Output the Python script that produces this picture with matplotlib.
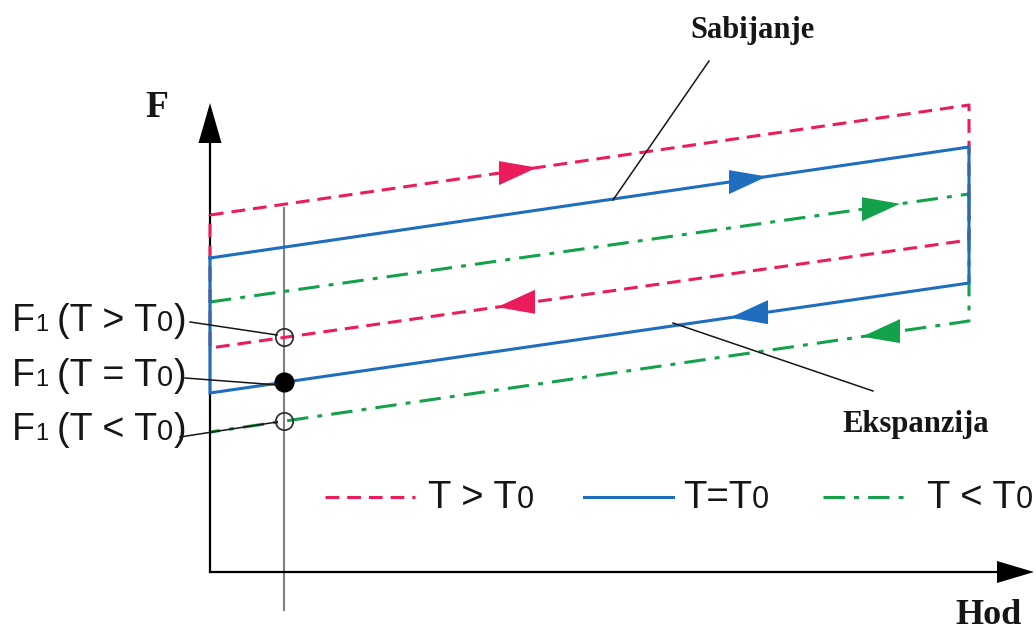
import matplotlib
matplotlib.use("Agg")
import matplotlib.pyplot as plt
from matplotlib.patches import Polygon
from matplotlib.transforms import IdentityTransform

# ---------------------------------------------------------------------------
# Data (schematic units: Hod to the right, F upwards, origin at axis cross)
# ---------------------------------------------------------------------------
HOD_ENDS = [0, 759]

F_HOT_TOP = [357, 467]      # T > T0, compression
F_HOT_BOT = [224, 332]      # T > T0, expansion
F_REF_TOP = [314, 425]      # T = T0
F_REF_BOT = [179, 289]
F_COLD_TOP = [270, 378]     # T < T0
F_COLD_BOT = [140, 251]

ARROW_TOP_HOD = [327, 557, 690]   # direction marks on compression lines
ARROW_BOT_HOD = [287, 520, 652]   # direction marks on expansion lines

F1_HOD = 74
F1_LABELS = [("(T > T", "0", ")"), ("(T = T", "0", ")"), ("(T < T", "0", ")")]
LEGEND_LABELS = [("T > T", "0"), ("T=T", "0"), ("T < T", "0")]

RED = "#ec1c5c"
BLUE = "#1f6dbf"
GREEN = "#13a24b"
INK = "#161616"

SANS = ["Liberation Sans Narrow", "Liberation Sans", "DejaVu Sans"]
SERIF = ["Liberation Serif", "DejaVu Serif"]


def line_f(f_pair, h):
    h0, h1 = HOD_ENDS
    return f_pair[0] + (f_pair[1] - f_pair[0]) * (h - h0) / (h1 - h0)


def draw_loop(ax, f_top, f_bot, color, dashes, z, left_edge=True):
    h0, h1 = HOD_ENDS
    xs = [h0, h1, h1, h0]
    ys = [f_top[0], f_top[1], f_bot[1], f_bot[0]]
    if left_edge:
        xs.append(h0)
        ys.append(f_top[0])
    ax.plot(xs, ys, color=color, lw=2.2, linestyle=dashes, zorder=z,
            solid_joinstyle="miter", dash_capstyle="butt")


def draw_head(ax, f_pair, h_tip, direction, color, z, length=38, half=12):
    hb = h_tip - direction * length
    fb = line_f(f_pair, hb)
    pts = [(h_tip, line_f(f_pair, h_tip)), (hb, fb + half), (hb, fb - half)]
    ax.add_patch(Polygon(pts, closed=True, color=color, lw=0, zorder=z))


def rich_text(ax, x, y, parts, gap=0.0):
    """Draw pieces of text on one baseline, each piece with its own size."""
    renderer = ax.figure.canvas.get_renderer()
    px, py = ax.transData.transform((x, y))
    for i, (s, size) in enumerate(parts):
        t = ax.text(px, py, s, transform=IdentityTransform(), fontsize=size,
                    family=SANS, color=INK, ha="left", va="baseline")
        px = t.get_window_extent(renderer).x1
        if i == 1:
            px += gap


fig = plt.figure(figsize=(10.36, 6.33), dpi=100)
ax = fig.add_axes([0, 0, 1, 1])
ax.set_xlim(-210, 826)
ax.set_ylim(-61, 572)
ax.axis("off")

# axes with arrowheads
ax.plot([0, 0], [0, 430], color="black", lw=1.6, zorder=2)
ax.add_patch(Polygon([(-11.5, 429), (11.5, 429), (0, 469)], color="black", lw=0, zorder=2))
ax.plot([0, 788], [0, 0], color="black", lw=1.6, zorder=2)
ax.add_patch(Polygon([(787, 11), (787, -11), (824, 0)], color="black", lw=0, zorder=2))
ax.text(-53, 455, "F", family=SERIF, weight="bold", fontsize=27, color=INK,
        ha="center", va="baseline")
ax.text(779, -52, "Hod", family=SERIF, weight="bold", fontsize=26, color=INK,
        ha="center", va="baseline")

# reading line at F1
ax.plot([F1_HOD, F1_HOD], [364, -38], color="#808080", lw=1.5, zorder=1)

# force-stroke loops
hot_ls = (0, (4.5, 2.6))
cold_ls = (0, (7, 3, 1.6, 3))
draw_loop(ax, F_HOT_TOP, F_HOT_BOT, RED, hot_ls, 3)
draw_loop(ax, F_COLD_TOP, F_COLD_BOT, GREEN, cold_ls, 1, left_edge=False)
draw_loop(ax, F_REF_TOP, F_REF_BOT, BLUE, "-", 4)

for i, (top, bot, col) in enumerate([(F_HOT_TOP, F_HOT_BOT, RED),
                                     (F_REF_TOP, F_REF_BOT, BLUE),
                                     (F_COLD_TOP, F_COLD_BOT, GREEN)]):
    draw_head(ax, top, ARROW_TOP_HOD[i], +1, col, 5)
    draw_head(ax, bot, ARROW_BOT_HOD[i], -1, col, 5)

# F1 points
ax.plot(F1_HOD, line_f(F_HOT_BOT, F1_HOD), "o", ms=12.5, mfc="none", mec="#333333",
        mew=1.3, zorder=6)
ax.plot(F1_HOD, line_f(F_REF_BOT, F1_HOD), "o", ms=13.5, mfc="black", mec="black", zorder=6)
ax.plot(F1_HOD, line_f(F_COLD_BOT, F1_HOD), "o", ms=12.5, mfc="none", mec="#333333",
        mew=1.3, zorder=6)

# leader lines
leaders = [((-20, 250), (67, 237)), ((-25, 194), (68, 187)), ((-30, 135), (67, 150)),
           ((499, 511), (403, 372)), ((463, 249), (663, 181))]
for (a, b) in leaders:
    ax.plot([a[0], b[0]], [a[1], b[1]], color=INK, lw=1.1, zorder=6)

ax.text(542, 534, "Sabijanje", family=SERIF, weight="bold", fontsize=22, color=INK,
        ha="center", va="baseline")
ax.text(706, 140, "Ekspanzija", family=SERIF, weight="bold", fontsize=22, color=INK,
        ha="center", va="baseline")

# F1 labels
for base, (body, sub, close) in zip([241, 186, 132], F1_LABELS):
    rich_text(ax, -198, base, [("F", 27), ("1", 17), (body, 27), (sub, 21), (close, 27)],
              gap=9)

# legend
legend_lines = [(115, 205, RED, hot_ls), (374, 463, BLUE, "-"), (613, 700, GREEN, cold_ls)]
legend_text_x = [218, 473, 717]
for (x0, x1, col, ls), tx, (body, sub) in zip(legend_lines, legend_text_x, LEGEND_LABELS):
    ax.plot([x0, x1], [75, 75], color=col, lw=2.2, linestyle=ls, dash_capstyle="butt")
    rich_text(ax, tx, 64, [(body, 27.5), (sub, 22)])

fig.savefig("out.png", dpi=100)
